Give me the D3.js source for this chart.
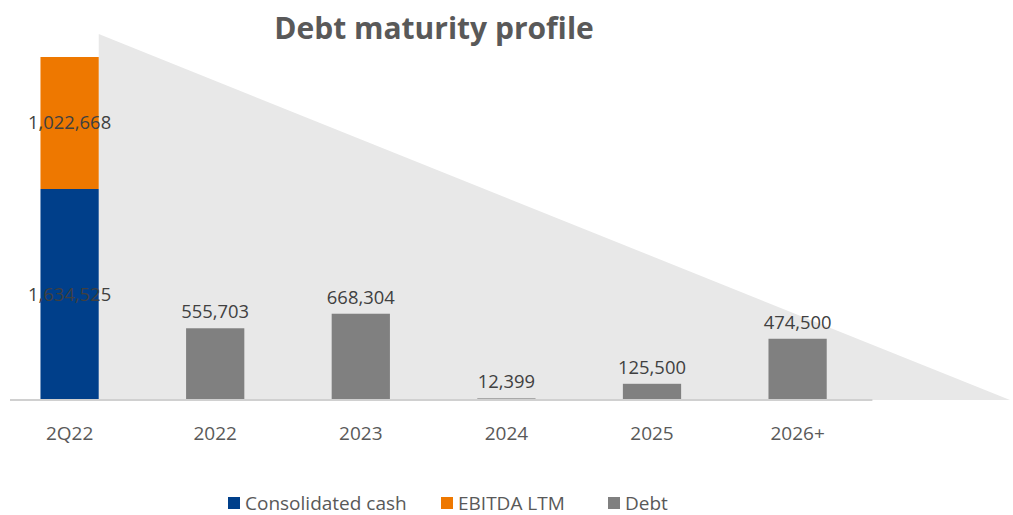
<!DOCTYPE html>
<html><head><meta charset="utf-8">
<script src="https://cdn.jsdelivr.net/npm/d3@7"></script>
<style>html,body{margin:0;padding:0;background:#fff;}svg{display:block;}</style>
</head><body>
<svg id="chart" width="1013" height="515"></svg>
<script>
const categories = ["2Q22", "2022", "2023", "2024", "2025", "2026+"];
const consolidatedCash = [1634525, 0, 0, 0, 0, 0];
const ebitdaLTM = [1022668, 0, 0, 0, 0, 0];
const debt = [0, 555703, 668304, 12399, 125500, 474500];
const seriesNames = ["Consolidated cash", "EBITDA LTM", "Debt"];
const seriesColors = ["#003f8a", "#ee7800", "#808080"];
const triangleApexValue = 2835000;
const title = "Debt maturity profile";

const svg = d3.select("#chart");
const W = 1013, H = 515;
const baseY = 400, topY = 57;
const fmt = d3.format(",");
const font = "'Open Sans', 'Liberation Sans', sans-serif";

const x = d3.scaleBand().domain(categories).range([-3.2, 870.4]).paddingInner(0.6).paddingOuter(0.3);
const total0 = consolidatedCash[0] + ebitdaLTM[0];
const y = d3.scaleLinear().domain([0, total0]).range([baseY, topY]);

// background triangle
const triLeft = x(categories[0]) + x.bandwidth();
svg.append("path")
  .attr("d", `M${triLeft},${y(triangleApexValue)} L${W - 3},${y(0)} L${triLeft},${y(0)} Z`)
  .attr("fill", "#e8e8e8");

// stacked data
const rows = categories.map((c, i) => ({cat: c, cash: consolidatedCash[i], ebitda: ebitdaLTM[i], debt: debt[i]}));
const stack = d3.stack().keys(["cash", "ebitda", "debt"]);
const stacked = stack(rows);

const g = svg.append("g");
stacked.forEach((s, si) => {
  g.selectAll(null).data(s.filter(d => d[1] - d[0] > 0)).enter().append("rect")
    .attr("x", d => x(d.data.cat))
    .attr("width", x.bandwidth())
    .attr("y", d => y(d[1]))
    .attr("height", d => y(d[0]) - y(d[1]))
    .attr("fill", seriesColors[si]);
});

// axis line
svg.append("line").attr("x1", 10).attr("x2", x.range()[1] + 2)
  .attr("y1", baseY).attr("y2", baseY)
  .attr("stroke", "#d0d0d0").attr("stroke-width", 2);

// labels: stacked segments centered, debt above
stacked.forEach((s, si) => {
  s.filter(d => d[1] - d[0] > 0).forEach(d => {
    const v = d[1] - d[0];
    const cx = x(d.data.cat) + x.bandwidth() / 2;
    const inside = si < 2;
    svg.append("text")
      .attr("x", cx)
      .attr("y", inside ? (y(d[0]) + y(d[1])) / 2 : y(d[1]) - 10)
      .attr("dy", inside ? "0.35em" : 0)
      .attr("text-anchor", "middle")
      .attr("font-family", font).attr("font-size", 18.4)
      .attr("fill", "#404040")
      .text(fmt(v));
  });
});

// category axis labels
svg.append("g").selectAll("text").data(categories).enter().append("text")
  .attr("x", d => x(d) + x.bandwidth() / 2)
  .attr("y", 440)
  .attr("text-anchor", "middle")
  .attr("font-family", font).attr("font-size", 19)
  .attr("fill", "#595959")
  .text(d => d);

// title
svg.append("text").attr("x", 434).attr("y", 39).attr("text-anchor", "middle")
  .attr("font-family", font).attr("font-weight", "bold").attr("font-size", 30)
  .attr("fill", "#595959").text(title);

// legend
const legendX = [228, 441, 608];
const lg = svg.append("g");
seriesNames.forEach((n, i) => {
  lg.append("rect").attr("x", legendX[i]).attr("y", 497).attr("width", 12).attr("height", 12).attr("fill", seriesColors[i]);
  lg.append("text").attr("x", legendX[i] + 17).attr("y", 509.5)
    .attr("font-family", font).attr("font-size", 19).attr("fill", "#595959").text(n);
});
</script>
</body></html>
